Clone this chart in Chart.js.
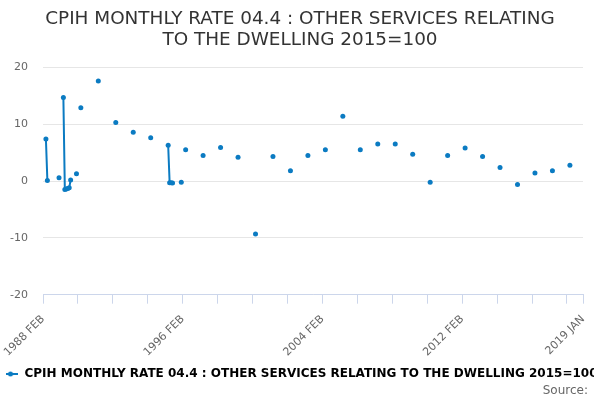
<!DOCTYPE html>
<html>
<head>
<meta charset="utf-8">
<script src="https://cdn.jsdelivr.net/npm/chart.js@4/dist/chart.umd.min.js"></script>
<style>
  html, body { margin: 0; padding: 0; background: #fff; }
  #wrap { width: 600px; height: 400px; }
</style>
</head>
<body>
<div id="wrap"><canvas id="chart" width="600" height="400"></canvas></div>
<script>
const seriesName = "CPIH MONTHLY RATE 04.4 : OTHER SERVICES RELATING TO THE DWELLING 2015=100";
const sourceText = "Source:";
const monthNames = ["JAN", "FEB", "MAR", "APR", "MAY", "JUN", "JUL", "AUG", "SEP", "OCT", "NOV", "DEC"];

const obsMonths = [
  "1988 APR", "1988 MAY", "1989 JAN", "1989 APR", "1989 MAY", "1989 JUN", "1989 JUL", "1989 AUG", "1989 SEP",
  "1990 JAN", "1990 APR", "1991 APR", "1992 APR", "1993 APR", "1994 APR",
  "1995 APR", "1995 MAY", "1995 JUN", "1995 JUL", "1996 JAN", "1996 APR",
  "1997 APR", "1998 APR", "1999 APR", "2000 APR", "2001 APR", "2002 APR", "2003 APR",
  "2004 APR", "2005 APR", "2006 APR", "2007 APR", "2008 APR", "2009 APR", "2010 APR",
  "2011 APR", "2012 APR", "2013 APR", "2014 APR", "2015 APR", "2016 APR", "2017 APR", "2018 APR"
];
const obsValues = [
  7.4, 0.1, 0.6, 14.7, -1.5, -1.4, -1.3, -1.2, 0.2,
  1.3, 12.9, 17.6, 10.3, 8.6, 7.6,
  6.3, -0.3, -0.3, -0.35, -0.2, 5.5,
  4.5, 5.9, 4.2, -9.3, 4.3, 1.8, 4.5,
  5.5, 11.4, 5.5, 6.5, 6.5, 4.7, -0.2,
  4.5, 5.8, 4.3, 2.4, -0.6, 1.4, 1.8, 2.8
];
const yTicks = [-20, -10, 0, 10, 20];

// category labels, one per month from 1988 FEB to 2019 JAN
const categories = [];
for (let y = 1988, m = 1; y < 2019 || (y === 2019 && m === 0); ) {
  categories.push(y + " " + monthNames[m]);
  m++;
  if (m === 12) { m = 0; y++; }
}
const lastIdx = categories.length - 1;

const lookup = {};
obsMonths.forEach((k, i) => { lookup[k] = obsValues[i]; });
const values = categories.map(c => (c in lookup ? lookup[c] : null));

const blue = "#0b7bc2";

// legend symbol: short line with a dot, like the original
function legendSymbol() {
  const c = document.createElement("canvas");
  c.width = 16; c.height = 8;
  const g = c.getContext("2d");
  g.strokeStyle = blue; g.lineWidth = 2;
  g.beginPath(); g.moveTo(0, 4); g.lineTo(16, 4); g.stroke();
  g.fillStyle = blue;
  g.beginPath(); g.arc(8, 4, 2.5, 0, Math.PI * 2); g.fill();
  return c;
}

// "Source:" credit in the bottom right corner
const sourceCredit = {
  id: "sourceCredit",
  afterDraw(chart) {
    const ctx = chart.ctx;
    ctx.save();
    ctx.font = "12px 'DejaVu Sans'";
    ctx.fillStyle = "#666";
    ctx.textAlign = "right";
    ctx.textBaseline = "middle";
    ctx.fillText(sourceText, chart.width - 12, chart.height - 9);
    ctx.restore();
  }
};

new Chart(document.getElementById("chart"), {
  type: "line",
  data: {
    labels: categories,
    datasets: [{
      label: seriesName,
      data: values,
      borderColor: blue,
      backgroundColor: blue,
      borderWidth: 2,
      pointRadius: 2.5,
      pointBorderWidth: 0,
      pointBackgroundColor: blue,
      spanGaps: false,
      tension: 0
    }]
  },
  plugins: [sourceCredit],
  options: {
    responsive: false,
    animation: false,
    layout: { padding: { left: 6, right: 6, top: 4, bottom: 10 } },
    plugins: {
      title: {
        display: true,
        text: ["CPIH MONTHLY RATE 04.4 : OTHER SERVICES RELATING", "TO THE DWELLING 2015=100"],
        color: "#333",
        font: { family: "'DejaVu Sans'", size: 18.4, weight: "normal", lineHeight: 1.18 },
        padding: { top: 4, bottom: 16 }
      },
      legend: {
        position: "bottom",
        labels: {
          color: "#333",
          font: { family: "'DejaVu Sans'", size: 12, weight: "bold" },
          usePointStyle: true,
          pointStyleWidth: 16,
          boxHeight: 8,
          padding: 0,
          generateLabels: chart => [{
            text: seriesName,
            pointStyle: legendSymbol(),
            fillStyle: blue,
            strokeStyle: blue,
            lineWidth: 0,
            datasetIndex: 0
          }]
        }
      },
      tooltip: { enabled: false }
    },
    scales: {
      x: {
        type: "category",
        grid: { drawOnChartArea: false, drawTicks: true, tickLength: 9, color: "#ccd6eb" },
        border: { color: "#ccd6eb" },
        afterBuildTicks: scale => {
          scale.ticks = scale.ticks.filter(t => t.value % 24 === 0 || t.value === lastIdx);
        },
        // rotated labels may hang past the plot edges; don't let them shrink it
        afterFit: scale => { scale.paddingLeft = 0; scale.paddingRight = 0; },
        ticks: {
          autoSkip: false,
          maxRotation: 45,
          minRotation: 45,
          color: "#666",
          font: { family: "'DejaVu Sans'", size: 11 },
          padding: 9,
          callback: function (v) {
            return (v % 96 === 0 || v === lastIdx) ? categories[v] : "";
          }
        }
      },
      y: {
        min: -20,
        max: 20,
        afterBuildTicks: scale => { scale.ticks = yTicks.map(v => ({ value: v })); },
        afterFit: scale => { scale.width = 37; },
        grid: { color: "#e6e6e6", drawTicks: false },
        border: { display: false },
        ticks: {
          color: "#666",
          font: { family: "'DejaVu Sans'", size: 11 },
          padding: 15
        }
      },
      // empty right-hand strip so the plot ends where the original does
      yRight: {
        position: "right",
        display: true,
        afterFit: scale => { scale.width = 11; },
        grid: { display: false },
        border: { display: false },
        ticks: { display: false }
      }
    }
  }
});
</script>
</body>
</html>
